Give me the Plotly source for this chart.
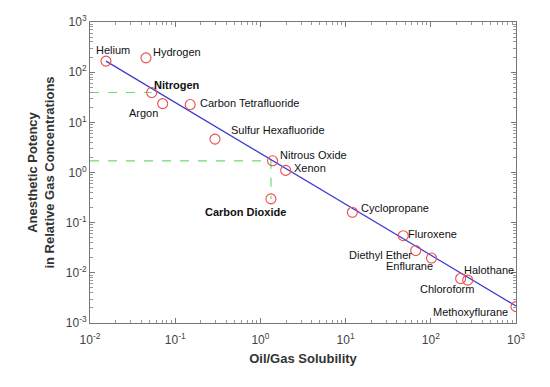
import math
import plotly.graph_objects as go

# Data
gases = ["Helium", "Hydrogen", "Nitrogen", "Argon", "Carbon Tetrafluoride",
         "Sulfur Hexafluoride", "Nitrous Oxide", "Xenon", "Carbon Dioxide",
         "Cyclopropane", "Fluroxene", "Diethyl Ether", "Enflurane",
         "Chloroform", "Halothane", "Methoxyflurane"]
solubility = [0.0154, 0.0454, 0.053, 0.0713, 0.150, 0.293, 1.39, 1.98, 1.33,
              12.0, 47.5, 66.5, 102, 224, 271, 1000]
potency = [166, 193, 39.3, 23.6, 22.6, 4.63, 1.71, 1.10, 0.298,
           0.161, 0.055, 0.0279, 0.0197, 0.0077, 0.00714, 0.00212]
bold_labels = ["Nitrogen", "Carbon Dioxide"]

fit_x = [0.0154, 1000]
fit_y = [166, 0.00218]

x_exponents = [-2, -1, 0, 1, 2, 3]
y_exponents = [-3, -2, -1, 0, 1, 2, 3]

# label placement: (xanchor, xshift, yshift)
label_pos = {
    "Helium": ("center", 7, 11),
    "Hydrogen": ("left", 5, 6),
    "Nitrogen": ("left", 0, 8),
    "Argon": ("right", -3, -9),
    "Carbon Tetrafluoride": ("left", 8, 2),
    "Sulfur Hexafluoride": ("left", 14, 9),
    "Nitrous Oxide": ("left", 5, 6),
    "Xenon": ("left", 6, 2),
    "Carbon Dioxide": ("center", -25, -13),
    "Cyclopropane": ("left", 7, 4),
    "Fluroxene": ("left", 3, 2),
    "Diethyl Ether": ("right", -2, -5),
    "Enflurane": ("right", 3, -8),
    "Chloroform": ("right", 15, -10),
    "Halothane": ("left", -6, 10),
    "Methoxyflurane": ("right", -6, -5),
}

idx = {g: i for i, g in enumerate(gases)}
xmin = 0.01
FONT = "Liberation Sans, Arial"

fig = go.Figure()

green = "#6fdc6f"
n2 = idx["Nitrogen"]
fig.add_trace(go.Scatter(x=[xmin, solubility[n2]], y=[potency[n2], potency[n2]],
                         mode="lines", line=dict(color=green, width=1.2, dash="dash"),
                         showlegend=False, hoverinfo="skip"))
n2o = idx["Nitrous Oxide"]
co2 = idx["Carbon Dioxide"]
fig.add_trace(go.Scatter(x=[xmin, solubility[co2], solubility[co2]],
                         y=[potency[n2o], potency[n2o], potency[co2]],
                         mode="lines", line=dict(color=green, width=1.2, dash="dash"),
                         showlegend=False, hoverinfo="skip"))

fig.add_trace(go.Scatter(x=fit_x, y=fit_y, mode="lines",
                         line=dict(color="#3b3bd0", width=1.2),
                         showlegend=False, hoverinfo="skip"))

fig.add_trace(go.Scatter(x=solubility, y=potency, mode="markers",
                         marker=dict(symbol="circle-open", size=10,
                                     color="#ec4c4c", line=dict(width=1.1)),
                         showlegend=False))

for g, sx, py in zip(gases, solubility, potency):
    xa, xs, ys = label_pos[g]
    txt = f"<b>{g}</b>" if g in bold_labels else g
    fig.add_annotation(x=math.log10(sx), y=math.log10(py), xref="x", yref="y",
                       text=txt, showarrow=False, xanchor=xa, yanchor="middle",
                       xshift=xs, yshift=ys,
                       font=dict(family=FONT, size=11, color="#111"))

axis_common = dict(
    type="log", showgrid=False, zeroline=False, automargin=False,
    showline=True, linecolor="#777", linewidth=1, mirror="allticks",
    ticks="inside", ticklen=5, tickcolor="#777",
    tickfont=dict(family=FONT, size=12, color="#444"),
    minor=dict(ticks="inside", ticklen=3, tickcolor="#999", dtick="D1", showgrid=False),
)

fig.update_xaxes(**axis_common, range=[-2, 3], ticklabelstandoff=6,
                 tickvals=[10 ** e for e in x_exponents],
                 ticktext=[f"10<sup>{e}</sup>" for e in x_exponents],
                 title=dict(text="<b>Oil/Gas Solubility</b>", standoff=7,
                            font=dict(family=FONT, size=13, color="#333")))
fig.update_yaxes(**axis_common, range=[-3, 3],
                 tickvals=[10 ** e for e in y_exponents],
                 ticktext=[f"10<sup>{e}</sup>" for e in y_exponents],
                 title=dict(text="<b>Anesthetic Potency<br>in Relative Gas Concentrations</b>",
                            standoff=8,
                            font=dict(family=FONT, size=13, color="#333")))

# page body has an 8px default margin; compensate so the plot area lands at 90..516 x 22..323
fig.update_layout(width=550, height=387, margin=dict(l=82, r=42, t=14, b=72),
                  plot_bgcolor="white", paper_bgcolor="white")

fig.write_html("out.html")
